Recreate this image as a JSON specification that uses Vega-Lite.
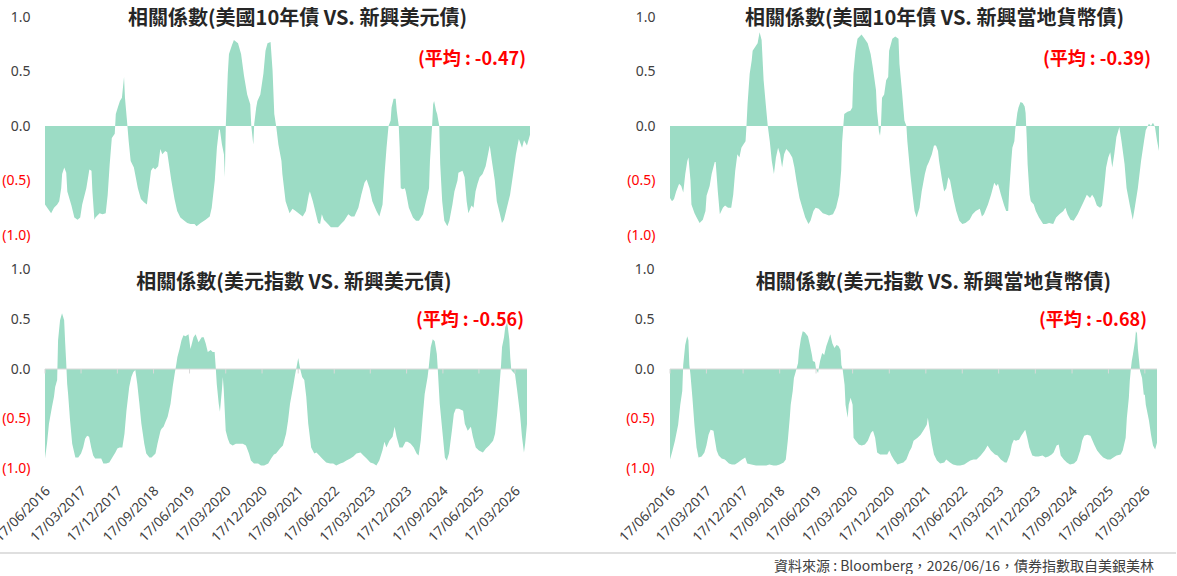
{
"$schema": "https://vega.github.io/schema/vega-lite/v6.json",
"padding": {"left": -8, "top": 9, "right": 0, "bottom": 0},
"config": {"view": {"stroke": null}, "font": "Noto Sans CJK TC", "title": {"fontSize": 20, "fontWeight": "bold", "color": "#262626", "font": "Noto Sans CJK TC", "anchor": "middle", "frame": "group", "baseline": "middle"}},
"datasets": {
"a": [{"date":"2016-06-17","corr":-0.72},{"date":"2016-07-09","corr":-0.76},{"date":"2016-08-02","corr":-0.80},{"date":"2016-08-24","corr":-0.75},{"date":"2016-09-17","corr":-0.72},{"date":"2016-10-02","corr":-0.69},{"date":"2016-10-17","corr":-0.57},{"date":"2016-10-24","corr":-0.44},{"date":"2016-11-09","corr":-0.38},{"date":"2016-11-24","corr":-0.43},{"date":"2016-12-02","corr":-0.60},{"date":"2017-01-02","corr":-0.73},{"date":"2017-01-24","corr":-0.84},{"date":"2017-02-17","corr":-0.86},{"date":"2017-03-09","corr":-0.84},{"date":"2017-03-24","corr":-0.72},{"date":"2017-04-24","corr":-0.57},{"date":"2017-05-17","corr":-0.40},{"date":"2017-06-02","corr":-0.41},{"date":"2017-06-09","corr":-0.60},{"date":"2017-06-24","corr":-0.86},{"date":"2017-07-02","corr":-0.84},{"date":"2017-08-02","corr":-0.80},{"date":"2017-08-24","corr":-0.81},{"date":"2017-09-17","corr":-0.80},{"date":"2017-10-02","corr":-0.63},{"date":"2017-10-17","corr":-0.35},{"date":"2017-11-02","corr":-0.11},{"date":"2017-11-24","corr":-0.07},{"date":"2017-12-02","corr":0.11},{"date":"2017-12-17","corr":0.17},{"date":"2018-01-02","corr":0.23},{"date":"2018-01-17","corr":0.26},{"date":"2018-02-02","corr":0.45},{"date":"2018-02-09","corr":0.26},{"date":"2018-02-24","corr":0.05},{"date":"2018-03-09","corr":-0.14},{"date":"2018-03-24","corr":-0.32},{"date":"2018-04-17","corr":-0.38},{"date":"2018-05-17","corr":-0.57},{"date":"2018-06-09","corr":-0.67},{"date":"2018-07-02","corr":-0.70},{"date":"2018-07-24","corr":-0.72},{"date":"2018-08-02","corr":-0.63},{"date":"2018-08-24","corr":-0.41},{"date":"2018-09-09","corr":-0.38},{"date":"2018-09-24","corr":-0.40},{"date":"2018-10-17","corr":-0.37},{"date":"2018-11-02","corr":-0.21},{"date":"2018-11-17","corr":-0.26},{"date":"2018-12-09","corr":-0.23},{"date":"2018-12-24","corr":-0.24},{"date":"2019-01-24","corr":-0.50},{"date":"2019-02-17","corr":-0.67},{"date":"2019-03-09","corr":-0.78},{"date":"2019-04-02","corr":-0.84},{"date":"2019-05-02","corr":-0.87},{"date":"2019-05-24","corr":-0.89},{"date":"2019-06-17","corr":-0.90},{"date":"2019-07-17","corr":-0.90},{"date":"2019-08-02","corr":-0.92},{"date":"2019-09-02","corr":-0.89},{"date":"2019-10-09","corr":-0.86},{"date":"2019-11-09","corr":-0.83},{"date":"2019-11-24","corr":-0.75},{"date":"2019-12-17","corr":-0.50},{"date":"2020-01-02","corr":-0.20},{"date":"2020-01-17","corr":-0.04},{"date":"2020-01-24","corr":-0.03},{"date":"2020-02-09","corr":-0.17},{"date":"2020-02-24","corr":-0.26},{"date":"2020-03-02","corr":-0.47},{"date":"2020-03-09","corr":0.00},{"date":"2020-03-24","corr":0.48},{"date":"2020-04-02","corr":0.66},{"date":"2020-04-24","corr":0.74},{"date":"2020-05-09","corr":0.79},{"date":"2020-06-09","corr":0.76},{"date":"2020-07-02","corr":0.66},{"date":"2020-07-24","corr":0.46},{"date":"2020-08-17","corr":0.29},{"date":"2020-09-09","corr":0.20},{"date":"2020-09-17","corr":0.00},{"date":"2020-10-02","corr":-0.17},{"date":"2020-10-09","corr":0.02},{"date":"2020-10-24","corr":0.17},{"date":"2020-11-02","corr":0.23},{"date":"2020-11-24","corr":0.29},{"date":"2020-12-17","corr":0.48},{"date":"2021-01-02","corr":0.69},{"date":"2021-01-17","corr":0.76},{"date":"2021-02-09","corr":0.77},{"date":"2021-02-24","corr":0.51},{"date":"2021-03-09","corr":0.11},{"date":"2021-03-24","corr":-0.01},{"date":"2021-04-09","corr":-0.17},{"date":"2021-05-02","corr":-0.32},{"date":"2021-05-09","corr":-0.44},{"date":"2021-06-02","corr":-0.69},{"date":"2021-07-02","corr":-0.80},{"date":"2021-07-24","corr":-0.76},{"date":"2021-08-17","corr":-0.78},{"date":"2021-09-17","corr":-0.81},{"date":"2021-10-09","corr":-0.83},{"date":"2021-11-02","corr":-0.78},{"date":"2021-11-24","corr":-0.63},{"date":"2021-12-02","corr":-0.60},{"date":"2021-12-24","corr":-0.69},{"date":"2022-01-17","corr":-0.81},{"date":"2022-02-02","corr":-0.89},{"date":"2022-02-17","corr":-0.90},{"date":"2022-03-02","corr":-0.81},{"date":"2022-03-17","corr":-0.86},{"date":"2022-04-17","corr":-0.90},{"date":"2022-05-09","corr":-0.93},{"date":"2022-06-02","corr":-0.93},{"date":"2022-07-02","corr":-0.93},{"date":"2022-07-24","corr":-0.90},{"date":"2022-08-17","corr":-0.87},{"date":"2022-09-17","corr":-0.81},{"date":"2022-10-09","corr":-0.83},{"date":"2022-11-02","corr":-0.83},{"date":"2022-12-02","corr":-0.75},{"date":"2022-12-24","corr":-0.63},{"date":"2023-01-17","corr":-0.52},{"date":"2023-02-02","corr":-0.49},{"date":"2023-02-24","corr":-0.57},{"date":"2023-03-17","corr":-0.69},{"date":"2023-04-17","corr":-0.78},{"date":"2023-05-09","corr":-0.83},{"date":"2023-06-02","corr":-0.72},{"date":"2023-06-17","corr":-0.44},{"date":"2023-07-02","corr":-0.20},{"date":"2023-07-17","corr":0.00},{"date":"2023-08-02","corr":0.05},{"date":"2023-08-09","corr":0.17},{"date":"2023-08-24","corr":0.25},{"date":"2023-09-09","corr":0.25},{"date":"2023-09-17","corr":0.14},{"date":"2023-10-02","corr":0.00},{"date":"2023-10-09","corr":-0.20},{"date":"2023-10-17","corr":-0.57},{"date":"2023-11-02","corr":-0.58},{"date":"2023-11-17","corr":-0.57},{"date":"2023-11-24","corr":-0.60},{"date":"2023-12-17","corr":-0.75},{"date":"2024-01-17","corr":-0.84},{"date":"2024-02-09","corr":-0.87},{"date":"2024-03-02","corr":-0.87},{"date":"2024-04-02","corr":-0.81},{"date":"2024-04-24","corr":-0.69},{"date":"2024-05-17","corr":-0.57},{"date":"2024-05-24","corr":-0.32},{"date":"2024-06-09","corr":0.00},{"date":"2024-06-17","corr":0.20},{"date":"2024-06-24","corr":0.23},{"date":"2024-07-09","corr":0.14},{"date":"2024-07-17","corr":0.11},{"date":"2024-08-02","corr":0.00},{"date":"2024-08-09","corr":-0.35},{"date":"2024-08-24","corr":-0.69},{"date":"2024-09-09","corr":-0.87},{"date":"2024-10-02","corr":-0.92},{"date":"2024-10-17","corr":-0.87},{"date":"2024-11-09","corr":-0.72},{"date":"2024-11-24","corr":-0.60},{"date":"2024-12-17","corr":-0.50},{"date":"2024-12-24","corr":-0.43},{"date":"2025-01-24","corr":-0.41},{"date":"2025-02-09","corr":-0.47},{"date":"2025-02-24","corr":-0.69},{"date":"2025-03-09","corr":-0.80},{"date":"2025-04-02","corr":-0.73},{"date":"2025-04-17","corr":-0.75},{"date":"2025-05-02","corr":-0.60},{"date":"2025-05-17","corr":-0.53},{"date":"2025-06-02","corr":-0.47},{"date":"2025-06-24","corr":-0.44},{"date":"2025-07-17","corr":-0.37},{"date":"2025-08-17","corr":-0.18},{"date":"2025-09-02","corr":-0.32},{"date":"2025-09-24","corr":-0.50},{"date":"2025-10-09","corr":-0.69},{"date":"2025-11-02","corr":-0.81},{"date":"2025-11-17","corr":-0.89},{"date":"2025-12-02","corr":-0.86},{"date":"2025-12-24","corr":-0.75},{"date":"2026-01-17","corr":-0.63},{"date":"2026-02-09","corr":-0.44},{"date":"2026-03-02","corr":-0.26},{"date":"2026-03-24","corr":-0.12},{"date":"2026-04-17","corr":-0.20},{"date":"2026-05-02","corr":-0.13},{"date":"2026-05-24","corr":-0.18},{"date":"2026-06-16","corr":-0.08}],
"b": [{"date":"2016-06-17","corr":-0.66},{"date":"2016-07-02","corr":-0.69},{"date":"2016-07-17","corr":-0.67},{"date":"2016-08-02","corr":-0.60},{"date":"2016-08-24","corr":-0.53},{"date":"2016-09-09","corr":-0.55},{"date":"2016-09-24","corr":-0.61},{"date":"2016-10-09","corr":-0.44},{"date":"2016-10-24","corr":-0.32},{"date":"2016-11-02","corr":-0.29},{"date":"2016-11-17","corr":-0.50},{"date":"2016-11-24","corr":-0.72},{"date":"2016-12-17","corr":-0.80},{"date":"2017-01-02","corr":-0.84},{"date":"2017-01-24","corr":-0.89},{"date":"2017-02-17","corr":-0.86},{"date":"2017-03-09","corr":-0.78},{"date":"2017-03-17","corr":-0.64},{"date":"2017-04-09","corr":-0.55},{"date":"2017-04-24","corr":-0.44},{"date":"2017-05-17","corr":-0.33},{"date":"2017-05-24","corr":-0.33},{"date":"2017-06-09","corr":-0.60},{"date":"2017-06-24","corr":-0.81},{"date":"2017-07-17","corr":-0.75},{"date":"2017-08-02","corr":-0.73},{"date":"2017-08-24","corr":-0.75},{"date":"2017-09-17","corr":-0.75},{"date":"2017-10-02","corr":-0.63},{"date":"2017-10-17","corr":-0.41},{"date":"2017-11-02","corr":-0.26},{"date":"2017-11-17","corr":-0.29},{"date":"2017-12-02","corr":-0.20},{"date":"2017-12-17","corr":-0.17},{"date":"2018-01-02","corr":-0.14},{"date":"2018-01-09","corr":0.00},{"date":"2018-01-17","corr":0.20},{"date":"2018-02-02","corr":0.48},{"date":"2018-02-17","corr":0.60},{"date":"2018-02-24","corr":0.69},{"date":"2018-03-17","corr":0.73},{"date":"2018-04-02","corr":0.76},{"date":"2018-04-17","corr":0.86},{"date":"2018-05-02","corr":0.79},{"date":"2018-05-17","corr":0.42},{"date":"2018-06-02","corr":0.20},{"date":"2018-06-17","corr":0.00},{"date":"2018-07-02","corr":-0.14},{"date":"2018-07-17","corr":-0.32},{"date":"2018-08-02","corr":-0.44},{"date":"2018-08-17","corr":-0.29},{"date":"2018-09-02","corr":-0.20},{"date":"2018-09-17","corr":-0.26},{"date":"2018-10-02","corr":-0.38},{"date":"2018-10-17","corr":-0.26},{"date":"2018-11-02","corr":-0.21},{"date":"2018-11-24","corr":-0.24},{"date":"2018-12-17","corr":-0.29},{"date":"2019-01-02","corr":-0.38},{"date":"2019-01-17","corr":-0.50},{"date":"2019-02-09","corr":-0.66},{"date":"2019-03-02","corr":-0.75},{"date":"2019-03-24","corr":-0.84},{"date":"2019-04-17","corr":-0.90},{"date":"2019-05-02","corr":-0.87},{"date":"2019-05-24","corr":-0.78},{"date":"2019-06-09","corr":-0.75},{"date":"2019-07-02","corr":-0.76},{"date":"2019-08-02","corr":-0.80},{"date":"2019-08-24","corr":-0.81},{"date":"2019-09-17","corr":-0.82},{"date":"2019-10-17","corr":-0.81},{"date":"2019-11-09","corr":-0.75},{"date":"2019-12-02","corr":-0.63},{"date":"2019-12-17","corr":-0.41},{"date":"2019-12-24","corr":-0.15},{"date":"2020-01-02","corr":0.00},{"date":"2020-01-09","corr":0.11},{"date":"2020-02-02","corr":0.13},{"date":"2020-02-24","corr":0.14},{"date":"2020-03-09","corr":0.17},{"date":"2020-03-17","corr":0.48},{"date":"2020-04-02","corr":0.69},{"date":"2020-04-17","corr":0.80},{"date":"2020-05-17","corr":0.84},{"date":"2020-06-09","corr":0.80},{"date":"2020-07-02","corr":0.76},{"date":"2020-07-24","corr":0.66},{"date":"2020-08-09","corr":0.54},{"date":"2020-09-02","corr":0.33},{"date":"2020-09-09","corr":0.14},{"date":"2020-09-17","corr":0.05},{"date":"2020-09-24","corr":-0.05},{"date":"2020-10-02","corr":-0.09},{"date":"2020-10-09","corr":0.00},{"date":"2020-10-17","corr":0.26},{"date":"2020-11-02","corr":0.29},{"date":"2020-11-17","corr":0.42},{"date":"2020-12-02","corr":0.45},{"date":"2020-12-09","corr":0.69},{"date":"2021-01-02","corr":0.80},{"date":"2021-01-24","corr":0.82},{"date":"2021-02-17","corr":0.80},{"date":"2021-02-24","corr":0.57},{"date":"2021-03-17","corr":0.29},{"date":"2021-04-02","corr":0.05},{"date":"2021-04-17","corr":0.00},{"date":"2021-04-24","corr":-0.14},{"date":"2021-05-17","corr":-0.45},{"date":"2021-06-02","corr":-0.63},{"date":"2021-06-17","corr":-0.78},{"date":"2021-07-02","corr":-0.84},{"date":"2021-07-24","corr":-0.75},{"date":"2021-08-09","corr":-0.60},{"date":"2021-09-02","corr":-0.44},{"date":"2021-09-17","corr":-0.37},{"date":"2021-10-02","corr":-0.33},{"date":"2021-10-24","corr":-0.26},{"date":"2021-11-09","corr":-0.18},{"date":"2021-11-24","corr":-0.18},{"date":"2021-12-09","corr":-0.23},{"date":"2021-12-17","corr":-0.32},{"date":"2022-01-09","corr":-0.50},{"date":"2022-01-24","corr":-0.60},{"date":"2022-02-09","corr":-0.57},{"date":"2022-02-24","corr":-0.47},{"date":"2022-03-09","corr":-0.50},{"date":"2022-04-02","corr":-0.66},{"date":"2022-04-24","corr":-0.78},{"date":"2022-05-17","corr":-0.87},{"date":"2022-06-09","corr":-0.90},{"date":"2022-07-02","corr":-0.89},{"date":"2022-08-02","corr":-0.86},{"date":"2022-08-24","corr":-0.81},{"date":"2022-09-17","corr":-0.78},{"date":"2022-10-17","corr":-0.76},{"date":"2022-11-02","corr":-0.83},{"date":"2022-11-17","corr":-0.81},{"date":"2022-12-17","corr":-0.72},{"date":"2023-01-09","corr":-0.63},{"date":"2023-02-02","corr":-0.52},{"date":"2023-02-17","corr":-0.55},{"date":"2023-03-02","corr":-0.53},{"date":"2023-03-24","corr":-0.63},{"date":"2023-04-17","corr":-0.73},{"date":"2023-05-02","corr":-0.78},{"date":"2023-05-17","corr":-0.78},{"date":"2023-05-24","corr":-0.60},{"date":"2023-06-09","corr":-0.32},{"date":"2023-06-17","corr":-0.20},{"date":"2023-07-02","corr":-0.14},{"date":"2023-07-09","corr":-0.03},{"date":"2023-07-24","corr":0.12},{"date":"2023-08-02","corr":0.17},{"date":"2023-08-17","corr":0.22},{"date":"2023-09-02","corr":0.21},{"date":"2023-09-17","corr":0.18},{"date":"2023-09-24","corr":0.12},{"date":"2023-10-02","corr":-0.10},{"date":"2023-10-09","corr":-0.35},{"date":"2023-10-24","corr":-0.63},{"date":"2023-11-02","corr":-0.69},{"date":"2023-11-24","corr":-0.72},{"date":"2023-12-09","corr":-0.78},{"date":"2024-01-02","corr":-0.84},{"date":"2024-02-02","corr":-0.90},{"date":"2024-02-24","corr":-0.90},{"date":"2024-03-17","corr":-0.89},{"date":"2024-04-17","corr":-0.90},{"date":"2024-05-09","corr":-0.84},{"date":"2024-06-02","corr":-0.81},{"date":"2024-07-02","corr":-0.78},{"date":"2024-07-17","corr":-0.75},{"date":"2024-08-02","corr":-0.81},{"date":"2024-08-24","corr":-0.86},{"date":"2024-09-17","corr":-0.87},{"date":"2024-10-17","corr":-0.81},{"date":"2024-11-09","corr":-0.75},{"date":"2024-12-02","corr":-0.69},{"date":"2024-12-24","corr":-0.63},{"date":"2025-01-17","corr":-0.66},{"date":"2025-02-02","corr":-0.63},{"date":"2025-02-17","corr":-0.66},{"date":"2025-03-09","corr":-0.73},{"date":"2025-04-02","corr":-0.75},{"date":"2025-04-17","corr":-0.73},{"date":"2025-05-02","corr":-0.57},{"date":"2025-05-17","corr":-0.38},{"date":"2025-06-02","corr":-0.29},{"date":"2025-06-17","corr":-0.24},{"date":"2025-07-02","corr":-0.38},{"date":"2025-07-17","corr":-0.26},{"date":"2025-08-02","corr":-0.10},{"date":"2025-08-24","corr":-0.01},{"date":"2025-09-09","corr":-0.14},{"date":"2025-10-02","corr":-0.35},{"date":"2025-10-17","corr":-0.57},{"date":"2025-11-09","corr":-0.72},{"date":"2025-12-02","corr":-0.86},{"date":"2025-12-17","corr":-0.75},{"date":"2026-01-09","corr":-0.57},{"date":"2026-02-02","corr":-0.32},{"date":"2026-02-24","corr":-0.14},{"date":"2026-03-09","corr":-0.04},{"date":"2026-03-24","corr":0.00},{"date":"2026-04-02","corr":0.02},{"date":"2026-04-17","corr":0.00},{"date":"2026-05-02","corr":0.03},{"date":"2026-05-17","corr":-0.01},{"date":"2026-06-02","corr":-0.14},{"date":"2026-06-16","corr":-0.23}],
"c": [{"date":"2016-06-17","corr":-0.90},{"date":"2016-07-02","corr":-0.75},{"date":"2016-07-17","corr":-0.55},{"date":"2016-08-09","corr":-0.38},{"date":"2016-08-24","corr":-0.28},{"date":"2016-09-02","corr":-0.18},{"date":"2016-09-17","corr":-0.11},{"date":"2016-09-24","corr":0.29},{"date":"2016-10-09","corr":0.49},{"date":"2016-10-24","corr":0.56},{"date":"2016-11-09","corr":0.49},{"date":"2016-11-17","corr":0.26},{"date":"2016-11-24","corr":0.08},{"date":"2016-12-02","corr":-0.15},{"date":"2016-12-09","corr":-0.25},{"date":"2016-12-24","corr":-0.52},{"date":"2017-01-09","corr":-0.75},{"date":"2017-02-02","corr":-0.89},{"date":"2017-02-24","corr":-0.89},{"date":"2017-03-17","corr":-0.85},{"date":"2017-04-02","corr":-0.79},{"date":"2017-04-17","corr":-0.70},{"date":"2017-05-02","corr":-0.67},{"date":"2017-05-17","corr":-0.68},{"date":"2017-06-02","corr":-0.79},{"date":"2017-06-17","corr":-0.87},{"date":"2017-07-02","corr":-0.90},{"date":"2017-07-24","corr":-0.90},{"date":"2017-08-17","corr":-0.90},{"date":"2017-09-02","corr":-0.95},{"date":"2017-09-24","corr":-0.95},{"date":"2017-10-17","corr":-0.94},{"date":"2017-11-09","corr":-0.89},{"date":"2017-12-02","corr":-0.84},{"date":"2017-12-17","corr":-0.80},{"date":"2018-01-02","corr":-0.79},{"date":"2018-01-24","corr":-0.79},{"date":"2018-02-09","corr":-0.65},{"date":"2018-02-24","corr":-0.42},{"date":"2018-03-17","corr":-0.18},{"date":"2018-04-02","corr":-0.08},{"date":"2018-04-17","corr":-0.03},{"date":"2018-05-02","corr":-0.01},{"date":"2018-05-17","corr":-0.15},{"date":"2018-06-02","corr":-0.35},{"date":"2018-06-17","corr":-0.55},{"date":"2018-07-09","corr":-0.75},{"date":"2018-07-24","corr":-0.85},{"date":"2018-08-17","corr":-0.89},{"date":"2018-09-02","corr":-0.89},{"date":"2018-10-02","corr":-0.85},{"date":"2018-10-17","corr":-0.75},{"date":"2018-11-09","corr":-0.62},{"date":"2018-11-17","corr":-0.60},{"date":"2018-12-02","corr":-0.58},{"date":"2018-12-17","corr":-0.53},{"date":"2019-01-02","corr":-0.48},{"date":"2019-01-24","corr":-0.35},{"date":"2019-02-09","corr":-0.18},{"date":"2019-02-24","corr":-0.05},{"date":"2019-03-09","corr":0.05},{"date":"2019-03-17","corr":0.12},{"date":"2019-04-02","corr":0.20},{"date":"2019-04-17","corr":0.29},{"date":"2019-05-02","corr":0.34},{"date":"2019-05-17","corr":0.33},{"date":"2019-06-09","corr":0.35},{"date":"2019-06-24","corr":0.20},{"date":"2019-07-17","corr":0.32},{"date":"2019-08-02","corr":0.35},{"date":"2019-08-24","corr":0.27},{"date":"2019-09-17","corr":0.32},{"date":"2019-10-02","corr":0.32},{"date":"2019-10-17","corr":0.26},{"date":"2019-11-02","corr":0.17},{"date":"2019-11-24","corr":0.19},{"date":"2019-12-09","corr":0.17},{"date":"2019-12-24","corr":0.17},{"date":"2020-01-02","corr":0.00},{"date":"2020-01-09","corr":-0.15},{"date":"2020-01-24","corr":-0.35},{"date":"2020-02-02","corr":-0.43},{"date":"2020-02-17","corr":-0.21},{"date":"2020-02-24","corr":-0.08},{"date":"2020-03-02","corr":-0.21},{"date":"2020-03-17","corr":-0.62},{"date":"2020-04-02","corr":-0.70},{"date":"2020-04-17","corr":-0.75},{"date":"2020-05-09","corr":-0.77},{"date":"2020-06-02","corr":-0.75},{"date":"2020-06-24","corr":-0.75},{"date":"2020-07-24","corr":-0.75},{"date":"2020-08-17","corr":-0.77},{"date":"2020-09-09","corr":-0.85},{"date":"2020-09-24","corr":-0.92},{"date":"2020-10-17","corr":-0.95},{"date":"2020-11-17","corr":-0.95},{"date":"2020-12-09","corr":-0.97},{"date":"2021-01-02","corr":-0.97},{"date":"2021-02-02","corr":-0.95},{"date":"2021-02-24","corr":-0.90},{"date":"2021-03-17","corr":-0.86},{"date":"2021-04-02","corr":-0.85},{"date":"2021-05-02","corr":-0.80},{"date":"2021-05-24","corr":-0.77},{"date":"2021-06-17","corr":-0.65},{"date":"2021-07-02","corr":-0.52},{"date":"2021-07-17","corr":-0.35},{"date":"2021-08-09","corr":-0.18},{"date":"2021-08-24","corr":-0.06},{"date":"2021-09-09","corr":0.05},{"date":"2021-09-17","corr":0.11},{"date":"2021-10-02","corr":0.00},{"date":"2021-10-17","corr":-0.08},{"date":"2021-11-02","corr":-0.11},{"date":"2021-11-17","corr":-0.28},{"date":"2021-12-02","corr":-0.55},{"date":"2021-12-24","corr":-0.79},{"date":"2022-01-17","corr":-0.85},{"date":"2022-02-02","corr":-0.84},{"date":"2022-02-24","corr":-0.87},{"date":"2022-03-17","corr":-0.90},{"date":"2022-04-17","corr":-0.94},{"date":"2022-05-17","corr":-0.95},{"date":"2022-06-09","corr":-0.95},{"date":"2022-07-02","corr":-0.97},{"date":"2022-08-02","corr":-0.95},{"date":"2022-08-24","corr":-0.94},{"date":"2022-09-17","corr":-0.92},{"date":"2022-10-17","corr":-0.90},{"date":"2022-11-09","corr":-0.88},{"date":"2022-12-02","corr":-0.85},{"date":"2023-01-02","corr":-0.84},{"date":"2023-01-24","corr":-0.87},{"date":"2023-02-17","corr":-0.90},{"date":"2023-03-17","corr":-0.94},{"date":"2023-04-09","corr":-0.95},{"date":"2023-05-02","corr":-0.97},{"date":"2023-05-24","corr":-0.92},{"date":"2023-06-17","corr":-0.82},{"date":"2023-07-02","corr":-0.73},{"date":"2023-07-17","corr":-0.79},{"date":"2023-08-09","corr":-0.72},{"date":"2023-09-02","corr":-0.68},{"date":"2023-09-17","corr":-0.58},{"date":"2023-10-02","corr":-0.68},{"date":"2023-10-24","corr":-0.79},{"date":"2023-11-17","corr":-0.79},{"date":"2023-12-09","corr":-0.73},{"date":"2023-12-24","corr":-0.73},{"date":"2024-01-17","corr":-0.75},{"date":"2024-02-09","corr":-0.79},{"date":"2024-03-02","corr":-0.85},{"date":"2024-03-17","corr":-0.87},{"date":"2024-04-02","corr":-0.72},{"date":"2024-04-17","corr":-0.48},{"date":"2024-05-02","corr":-0.25},{"date":"2024-05-24","corr":-0.08},{"date":"2024-06-02","corr":0.02},{"date":"2024-06-17","corr":0.22},{"date":"2024-07-02","corr":0.30},{"date":"2024-07-17","corr":0.28},{"date":"2024-08-02","corr":0.15},{"date":"2024-08-09","corr":0.00},{"date":"2024-08-24","corr":-0.35},{"date":"2024-09-17","corr":-0.68},{"date":"2024-10-02","corr":-0.89},{"date":"2024-10-17","corr":-0.92},{"date":"2024-11-02","corr":-0.85},{"date":"2024-11-24","corr":-0.62},{"date":"2024-12-09","corr":-0.45},{"date":"2024-12-24","corr":-0.40},{"date":"2025-01-17","corr":-0.40},{"date":"2025-02-17","corr":-0.42},{"date":"2025-03-02","corr":-0.55},{"date":"2025-03-24","corr":-0.62},{"date":"2025-04-17","corr":-0.58},{"date":"2025-05-02","corr":-0.68},{"date":"2025-05-24","corr":-0.79},{"date":"2025-06-17","corr":-0.82},{"date":"2025-07-17","corr":-0.84},{"date":"2025-08-09","corr":-0.80},{"date":"2025-09-02","corr":-0.77},{"date":"2025-10-02","corr":-0.72},{"date":"2025-10-17","corr":-0.65},{"date":"2025-11-02","corr":-0.45},{"date":"2025-11-17","corr":-0.21},{"date":"2025-12-02","corr":0.05},{"date":"2025-12-09","corr":0.22},{"date":"2025-12-24","corr":0.32},{"date":"2026-01-02","corr":0.42},{"date":"2026-01-17","corr":0.47},{"date":"2026-02-02","corr":0.30},{"date":"2026-02-09","corr":0.12},{"date":"2026-02-17","corr":-0.01},{"date":"2026-03-02","corr":-0.03},{"date":"2026-03-17","corr":-0.05},{"date":"2026-04-02","corr":-0.21},{"date":"2026-04-24","corr":-0.45},{"date":"2026-05-09","corr":-0.68},{"date":"2026-05-24","corr":-0.84},{"date":"2026-06-02","corr":-0.75},{"date":"2026-06-16","corr":-0.55}],
"d": [{"date":"2016-06-17","corr":-0.91},{"date":"2016-07-02","corr":-0.84},{"date":"2016-07-24","corr":-0.72},{"date":"2016-08-17","corr":-0.56},{"date":"2016-09-02","corr":-0.36},{"date":"2016-09-17","corr":-0.22},{"date":"2016-09-24","corr":0.04},{"date":"2016-10-09","corr":0.24},{"date":"2016-10-24","corr":0.33},{"date":"2016-11-02","corr":0.29},{"date":"2016-11-09","corr":0.04},{"date":"2016-11-17","corr":-0.05},{"date":"2016-12-02","corr":-0.29},{"date":"2016-12-17","corr":-0.56},{"date":"2017-01-02","corr":-0.79},{"date":"2017-01-17","corr":-0.89},{"date":"2017-02-09","corr":-0.88},{"date":"2017-03-02","corr":-0.84},{"date":"2017-03-17","corr":-0.77},{"date":"2017-04-02","corr":-0.66},{"date":"2017-04-17","corr":-0.61},{"date":"2017-05-09","corr":-0.62},{"date":"2017-05-17","corr":-0.69},{"date":"2017-06-02","corr":-0.82},{"date":"2017-06-17","corr":-0.87},{"date":"2017-07-09","corr":-0.90},{"date":"2017-08-02","corr":-0.91},{"date":"2017-09-02","corr":-0.95},{"date":"2017-09-24","corr":-0.96},{"date":"2017-10-17","corr":-0.96},{"date":"2017-11-09","corr":-0.94},{"date":"2017-12-09","corr":-0.91},{"date":"2018-01-02","corr":-0.89},{"date":"2018-01-17","corr":-0.95},{"date":"2018-02-17","corr":-0.96},{"date":"2018-03-24","corr":-0.97},{"date":"2018-05-02","corr":-0.97},{"date":"2018-06-09","corr":-0.97},{"date":"2018-07-02","corr":-0.96},{"date":"2018-08-02","corr":-0.97},{"date":"2018-08-24","corr":-0.97},{"date":"2018-09-17","corr":-0.96},{"date":"2018-10-17","corr":-0.94},{"date":"2018-11-02","corr":-0.91},{"date":"2018-11-17","corr":-0.72},{"date":"2018-12-02","corr":-0.49},{"date":"2018-12-09","corr":-0.36},{"date":"2018-12-24","corr":-0.22},{"date":"2019-01-02","corr":-0.09},{"date":"2019-01-17","corr":-0.02},{"date":"2019-02-02","corr":0.06},{"date":"2019-02-09","corr":0.18},{"date":"2019-02-24","corr":0.31},{"date":"2019-03-09","corr":0.38},{"date":"2019-03-24","corr":0.37},{"date":"2019-04-17","corr":0.33},{"date":"2019-05-02","corr":0.24},{"date":"2019-05-17","corr":0.14},{"date":"2019-05-24","corr":0.08},{"date":"2019-06-09","corr":0.07},{"date":"2019-06-17","corr":0.00},{"date":"2019-07-02","corr":-0.04},{"date":"2019-07-09","corr":0.02},{"date":"2019-07-17","corr":0.08},{"date":"2019-08-02","corr":0.16},{"date":"2019-08-17","corr":0.14},{"date":"2019-09-02","corr":0.23},{"date":"2019-09-17","corr":0.29},{"date":"2019-10-02","corr":0.35},{"date":"2019-10-17","corr":0.26},{"date":"2019-11-02","corr":0.21},{"date":"2019-11-17","corr":0.24},{"date":"2019-12-02","corr":0.23},{"date":"2019-12-17","corr":0.19},{"date":"2019-12-24","corr":0.04},{"date":"2020-01-02","corr":0.00},{"date":"2020-01-17","corr":-0.16},{"date":"2020-01-24","corr":-0.36},{"date":"2020-02-09","corr":-0.49},{"date":"2020-02-17","corr":-0.36},{"date":"2020-03-02","corr":-0.29},{"date":"2020-03-17","corr":-0.36},{"date":"2020-03-24","corr":-0.69},{"date":"2020-04-09","corr":-0.72},{"date":"2020-05-02","corr":-0.76},{"date":"2020-05-24","corr":-0.77},{"date":"2020-06-17","corr":-0.76},{"date":"2020-07-09","corr":-0.72},{"date":"2020-08-02","corr":-0.64},{"date":"2020-08-17","corr":-0.62},{"date":"2020-09-02","corr":-0.69},{"date":"2020-09-17","corr":-0.84},{"date":"2020-10-09","corr":-0.86},{"date":"2020-11-02","corr":-0.86},{"date":"2020-12-02","corr":-0.86},{"date":"2020-12-17","corr":-0.82},{"date":"2021-01-02","corr":-0.87},{"date":"2021-01-24","corr":-0.92},{"date":"2021-02-17","corr":-0.96},{"date":"2021-03-09","corr":-0.95},{"date":"2021-04-02","corr":-0.94},{"date":"2021-04-24","corr":-0.91},{"date":"2021-05-17","corr":-0.83},{"date":"2021-06-02","corr":-0.79},{"date":"2021-06-17","corr":-0.72},{"date":"2021-07-17","corr":-0.69},{"date":"2021-08-09","corr":-0.66},{"date":"2021-09-02","corr":-0.61},{"date":"2021-09-24","corr":-0.56},{"date":"2021-10-02","corr":-0.49},{"date":"2021-10-17","corr":-0.62},{"date":"2021-11-02","corr":-0.76},{"date":"2021-11-17","corr":-0.86},{"date":"2021-12-09","corr":-0.92},{"date":"2022-01-02","corr":-0.95},{"date":"2022-02-02","corr":-0.94},{"date":"2022-02-17","corr":-0.91},{"date":"2022-03-17","corr":-0.94},{"date":"2022-04-09","corr":-0.96},{"date":"2022-05-09","corr":-0.97},{"date":"2022-06-02","corr":-0.97},{"date":"2022-07-02","corr":-0.96},{"date":"2022-07-24","corr":-0.94},{"date":"2022-08-17","corr":-0.92},{"date":"2022-09-09","corr":-0.91},{"date":"2022-10-02","corr":-0.91},{"date":"2022-11-02","corr":-0.87},{"date":"2022-12-02","corr":-0.82},{"date":"2022-12-24","corr":-0.77},{"date":"2023-01-17","corr":-0.82},{"date":"2023-02-17","corr":-0.86},{"date":"2023-03-09","corr":-0.87},{"date":"2023-04-02","corr":-0.91},{"date":"2023-05-02","corr":-0.94},{"date":"2023-05-17","corr":-0.94},{"date":"2023-06-09","corr":-0.86},{"date":"2023-06-24","corr":-0.76},{"date":"2023-07-09","corr":-0.71},{"date":"2023-07-24","corr":-0.72},{"date":"2023-08-17","corr":-0.71},{"date":"2023-09-02","corr":-0.67},{"date":"2023-09-17","corr":-0.64},{"date":"2023-10-02","corr":-0.61},{"date":"2023-10-17","corr":-0.69},{"date":"2023-11-02","corr":-0.79},{"date":"2023-11-24","corr":-0.87},{"date":"2023-12-17","corr":-0.88},{"date":"2024-01-09","corr":-0.88},{"date":"2024-02-09","corr":-0.87},{"date":"2024-03-02","corr":-0.89},{"date":"2024-03-24","corr":-0.88},{"date":"2024-04-17","corr":-0.86},{"date":"2024-05-02","corr":-0.84},{"date":"2024-05-24","corr":-0.77},{"date":"2024-06-09","corr":-0.76},{"date":"2024-06-24","corr":-0.87},{"date":"2024-07-17","corr":-0.91},{"date":"2024-08-09","corr":-0.94},{"date":"2024-09-02","corr":-0.96},{"date":"2024-10-02","corr":-0.95},{"date":"2024-10-24","corr":-0.92},{"date":"2024-11-17","corr":-0.82},{"date":"2024-12-02","corr":-0.72},{"date":"2024-12-17","corr":-0.67},{"date":"2025-01-09","corr":-0.66},{"date":"2025-02-02","corr":-0.67},{"date":"2025-03-02","corr":-0.76},{"date":"2025-03-24","corr":-0.82},{"date":"2025-04-17","corr":-0.86},{"date":"2025-05-09","corr":-0.89},{"date":"2025-06-09","corr":-0.91},{"date":"2025-07-02","corr":-0.91},{"date":"2025-07-24","corr":-0.89},{"date":"2025-08-17","corr":-0.87},{"date":"2025-09-17","corr":-0.86},{"date":"2025-10-02","corr":-0.82},{"date":"2025-10-24","corr":-0.69},{"date":"2025-11-02","corr":-0.49},{"date":"2025-11-17","corr":-0.29},{"date":"2025-11-24","corr":-0.12},{"date":"2025-12-02","corr":0.00},{"date":"2025-12-09","corr":0.08},{"date":"2025-12-17","corr":0.14},{"date":"2026-01-02","corr":0.28},{"date":"2026-01-09","corr":0.38},{"date":"2026-01-17","corr":0.36},{"date":"2026-01-24","corr":0.20},{"date":"2026-02-02","corr":0.08},{"date":"2026-02-09","corr":-0.02},{"date":"2026-02-24","corr":-0.09},{"date":"2026-03-09","corr":-0.26},{"date":"2026-03-17","corr":-0.26},{"date":"2026-03-24","corr":-0.36},{"date":"2026-04-17","corr":-0.52},{"date":"2026-05-02","corr":-0.66},{"date":"2026-05-17","corr":-0.77},{"date":"2026-06-02","corr":-0.81},{"date":"2026-06-16","corr":-0.74}],
"ticks": [{"date":"2016-06-17T00:00:00"},{"date":"2017-03-17T00:00:00"},{"date":"2017-12-17T00:00:00"},{"date":"2018-09-17T00:00:00"},{"date":"2019-06-17T00:00:00"},{"date":"2020-03-17T00:00:00"},{"date":"2020-12-17T00:00:00"},{"date":"2021-09-17T00:00:00"},{"date":"2022-06-17T00:00:00"},{"date":"2023-03-17T00:00:00"},{"date":"2023-12-17T00:00:00"},{"date":"2024-09-17T00:00:00"},{"date":"2025-06-17T00:00:00"},{"date":"2026-03-17T00:00:00"}]
},
"columns": 1,
"align": "none",
"spacing": 7,
"concat": [
{
"columns": 2,
"bounds": "flush",
"spacing": {"row": 34.5, "column": 140},
"concat": [
{
"width": 485, "height": 218,
"title": {"text": "相關係數(美國10年債 VS. 新興美元債)", "dx": 10, "offset": -19},
"layer": [
{"data": {"name": "a"}, "mark": {"type": "area", "color": "#9cdcc5", "interpolate": "linear"},
 "encoding": {
  "x": {"field": "date", "type": "temporal", "scale": {"domain": [{"year":2016,"month":6,"date":17},{"year":2026,"month":6,"date":16}], "nice": false}, "axis": null},
  "y": {"field": "corr", "type": "quantitative", "stack": null, "scale": {"domain": [-1, 1], "nice": false, "zero": false},
   "axis": {"values": [-1, -0.5, 0, 0.5, 1], "grid": false, "domain": false, "ticks": false, "labelPadding": 15, "minExtent": 44, "labelFontSize": 14, "labelFont": "Noto Sans", "labelExpr": "datum.value < 0 ? '(' + format(-datum.value, '.1f') + ')' : format(datum.value, '.1f')", "labelColor": {"condition": {"test": "datum.value < 0", "value": "#ff0000"}, "value": "#404040"}, "title": null}}
 }},
{"data": {"values": [{"label": "(平均 : -0.47)"}]}, "mark": {"type": "text", "align": "right", "baseline": "middle", "color": "#ff0000", "fontSize": 18, "fontWeight": "bold", "font": "Noto Sans CJK TC"},
 "encoding": {"x": {"datum": {"year":2026,"month":5,"date":17}, "type": "temporal"}, "y": {"datum": 0.61, "type": "quantitative"}, "text": {"field": "label"}}}
]
},
{
"width": 489, "height": 218,
"title": {"text": "相關係數(美國10年債 VS. 新興當地貨幣債)", "dx": 20, "offset": -19},
"layer": [
{"data": {"name": "b"}, "mark": {"type": "area", "color": "#9cdcc5", "interpolate": "linear"},
 "encoding": {
  "x": {"field": "date", "type": "temporal", "scale": {"domain": [{"year":2016,"month":6,"date":17},{"year":2026,"month":6,"date":16}], "nice": false}, "axis": null},
  "y": {"field": "corr", "type": "quantitative", "stack": null, "scale": {"domain": [-1, 1], "nice": false, "zero": false},
   "axis": {"values": [-1, -0.5, 0, 0.5, 1], "grid": false, "domain": false, "ticks": false, "labelPadding": 15, "minExtent": 44, "labelFontSize": 14, "labelFont": "Noto Sans", "labelExpr": "datum.value < 0 ? '(' + format(-datum.value, '.1f') + ')' : format(datum.value, '.1f')", "labelColor": {"condition": {"test": "datum.value < 0", "value": "#ff0000"}, "value": "#404040"}, "title": null}}
 }},
{"data": {"values": [{"label": "(平均 : -0.39)"}]}, "mark": {"type": "text", "align": "right", "baseline": "middle", "color": "#ff0000", "fontSize": 18, "fontWeight": "bold", "font": "Noto Sans CJK TC"},
 "encoding": {"x": {"datum": {"year":2026,"month":4,"date":17}, "type": "temporal"}, "y": {"datum": 0.61, "type": "quantitative"}, "text": {"field": "label"}}}
]
},
{
"width": 482, "height": 199,
"title": {"text": "相關係數(美元指數 VS. 新興美元債)", "dx": 8, "offset": -30.5},
"layer": [
{"data": {"name": "c"}, "mark": {"type": "area", "color": "#9cdcc5", "interpolate": "linear"},
 "encoding": {
  "x": {"field": "date", "type": "temporal", "scale": {"domain": [{"year":2016,"month":6,"date":17},{"year":2026,"month":6,"date":16}], "nice": false}, "axis": null},
  "y": {"field": "corr", "type": "quantitative", "stack": null, "scale": {"domain": [-1, 1], "nice": false, "zero": false},
   "axis": {"values": [-1, -0.5, 0, 0.5, 1], "grid": false, "domain": false, "ticks": false, "labelPadding": 15, "minExtent": 48, "labelFontSize": 14, "labelFont": "Noto Sans", "labelExpr": "datum.value < 0 ? '(' + format(-datum.value, '.1f') + ')' : format(datum.value, '.1f')", "labelColor": {"condition": {"test": "datum.value < 0", "value": "#ff0000"}, "value": "#404040"}, "title": null}}
 }},
{"data": {"values": [{}]}, "mark": {"type": "rule", "color": "#d9d9d9", "strokeWidth": 1}, "encoding": {"y": {"datum": 0, "type": "quantitative"}}},
{"data": {"name": "ticks"}, "mark": {"type": "rule", "color": "#d9d9d9", "strokeWidth": 1}, "encoding": {"x": {"field": "date", "type": "temporal"}, "y": {"datum": 0, "type": "quantitative"}, "y2": {"datum": -0.045}}},
{"data": {"name": "ticks"}, "mark": {"type": "text", "angle": 315, "align": "right", "baseline": "top", "dx": -12.3, "dy": 9.6, "fontSize": 13.5, "font": "Noto Sans", "color": "#404040"},
 "encoding": {"x": {"field": "date", "type": "temporal"}, "y": {"datum": -1, "type": "quantitative"}, "text": {"field": "date", "type": "temporal", "format": "%d/%m/%Y"}}},
{"data": {"values": [{"label": "(平均 : -0.56)"}]}, "mark": {"type": "text", "align": "right", "baseline": "middle", "color": "#ff0000", "fontSize": 18, "fontWeight": "bold", "font": "Noto Sans CJK TC"},
 "encoding": {"x": {"datum": {"year":2026,"month":5,"date":24}, "type": "temporal"}, "y": {"datum": 0.48, "type": "quantitative"}, "text": {"field": "label"}}}
]
},
{
"width": 487, "height": 199,
"title": {"text": "相關係數(美元指數 VS. 新興當地貨幣債)", "dx": 20, "offset": -30.5},
"layer": [
{"data": {"name": "d"}, "mark": {"type": "area", "color": "#9cdcc5", "interpolate": "linear"},
 "encoding": {
  "x": {"field": "date", "type": "temporal", "scale": {"domain": [{"year":2016,"month":6,"date":17},{"year":2026,"month":6,"date":16}], "nice": false}, "axis": null},
  "y": {"field": "corr", "type": "quantitative", "stack": null, "scale": {"domain": [-1, 1], "nice": false, "zero": false},
   "axis": {"values": [-1, -0.5, 0, 0.5, 1], "grid": false, "domain": false, "ticks": false, "labelPadding": 16, "minExtent": 44, "labelFontSize": 14, "labelFont": "Noto Sans", "labelExpr": "datum.value < 0 ? '(' + format(-datum.value, '.1f') + ')' : format(datum.value, '.1f')", "labelColor": {"condition": {"test": "datum.value < 0", "value": "#ff0000"}, "value": "#404040"}, "title": null}}
 }},
{"data": {"values": [{}]}, "mark": {"type": "rule", "color": "#d9d9d9", "strokeWidth": 1}, "encoding": {"y": {"datum": 0, "type": "quantitative"}}},
{"data": {"name": "ticks"}, "mark": {"type": "rule", "color": "#d9d9d9", "strokeWidth": 1}, "encoding": {"x": {"field": "date", "type": "temporal"}, "y": {"datum": 0, "type": "quantitative"}, "y2": {"datum": -0.045}}},
{"data": {"name": "ticks"}, "mark": {"type": "text", "angle": 315, "align": "right", "baseline": "top", "dx": -12.3, "dy": 9.6, "fontSize": 13.5, "font": "Noto Sans", "color": "#404040"},
 "encoding": {"x": {"field": "date", "type": "temporal"}, "y": {"datum": -1, "type": "quantitative"}, "text": {"field": "date", "type": "temporal", "format": "%d/%m/%Y"}}},
{"data": {"values": [{"label": "(平均 : -0.68)"}]}, "mark": {"type": "text", "align": "right", "baseline": "middle", "color": "#ff0000", "fontSize": 18, "fontWeight": "bold", "font": "Noto Sans CJK TC"},
 "encoding": {"x": {"datum": {"year":2026,"month":4,"date":2}, "type": "temporal"}, "y": {"datum": 0.48, "type": "quantitative"}, "text": {"field": "label"}}}
]
}
]
},
{
"width": 1131, "height": 1,
"data": {"values": [{}]},
"mark": {"type": "rule", "color": "#bfbfbf", "strokeWidth": 1},
"encoding": {
 "x": {"datum": -0.0407, "type": "quantitative", "scale": {"domain": [0, 1]}, "axis": null},
 "x2": {"datum": 1},
 "y": {"datum": 0, "type": "quantitative", "scale": {"domain": [0, 1]}, "axis": null}},
"title": {"text": "資料來源 : Bloomberg，2026/06/16，債券指數取自美銀美林", "orient": "bottom", "anchor": "end", "fontSize": 14, "fontWeight": "normal", "color": "#404040", "offset": 6, "dx": -22, "baseline": "top"}
}
]
}
